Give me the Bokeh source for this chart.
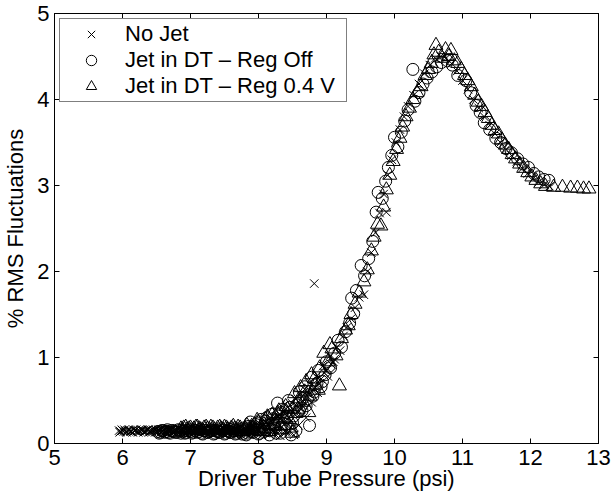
from bokeh.plotting import figure
from bokeh.models import (LinearAxis, Legend, LegendItem, Range1d, FixedTicker,
                          CustomLabelingPolicy)
from bokeh.embed import file_html
from bokeh.resources import INLINE

x_label = "Driver Tube Pressure (psi)"
y_label = "% RMS Fluctuations"
series_names = ["No Jet", "Jet in DT \u2013 Reg Off", "Jet in DT \u2013 Reg 0.4 V"]
x_ticks = [5, 6, 7, 8, 9, 10, 11, 12, 13]
y_ticks = [0, 1, 2, 3, 4, 5]

# Series 1: No Jet (x markers)
nojet_x = [5.95, 5.97, 6.00, 6.03, 6.05, 6.08, 6.11, 6.13, 6.16, 6.19, 6.21, 6.24, 6.27, 6.30,
           6.32, 6.35, 6.38, 6.41, 6.43, 6.46, 6.49, 6.52, 6.54, 6.57, 6.60, 6.63, 6.66, 6.68,
           6.71, 6.74, 6.77, 6.80, 6.82, 6.85, 6.88, 6.91, 6.94, 6.96, 6.99, 7.02, 7.05, 7.08,
           7.11, 7.13, 7.16, 7.19, 7.22, 7.25, 7.28, 7.31, 7.34, 7.37, 7.40, 7.43, 7.46, 7.49,
           7.52, 7.55, 7.58, 7.61, 7.64, 7.67, 7.70, 7.73, 7.76, 7.79, 7.82, 7.85, 7.88, 7.91,
           7.94, 7.97, 8.00, 8.03, 8.06, 8.10, 8.13, 8.16, 8.19, 8.22, 8.25, 8.28, 8.31, 8.34,
           8.37, 8.40, 8.43, 8.46, 8.49, 8.52, 8.55, 8.58, 8.61, 8.64, 8.68, 8.72, 8.76, 8.80,
           8.82, 8.85, 8.90, 8.95, 9.00, 9.05, 9.10, 9.15, 9.20, 9.25, 9.30, 9.36, 9.42, 9.48,
           9.55, 9.60, 9.66, 9.72, 9.78, 9.84, 9.88, 9.90, 9.96, 10.02, 10.08, 10.14, 10.20,
           10.28, 10.36, 10.44, 10.52, 10.60, 10.68, 10.76, 10.84, 10.92, 11.00, 11.08, 11.16,
           11.24, 11.32, 11.40, 11.48, 11.56, 11.64, 11.72, 11.80, 11.88, 11.96, 12.04, 12.12,
           12.20, 12.28]
nojet_y = [0.15, 0.14, 0.15, 0.16, 0.14, 0.15, 0.15, 0.14, 0.16, 0.15, 0.14, 0.15, 0.16, 0.15,
           0.14, 0.15, 0.16, 0.14, 0.15, 0.15, 0.16, 0.14, 0.15, 0.16, 0.15, 0.14, 0.15, 0.16,
           0.15, 0.14, 0.16, 0.15, 0.17, 0.14, 0.16, 0.15, 0.17, 0.14, 0.16, 0.15, 0.17, 0.14,
           0.16, 0.15, 0.17, 0.14, 0.16, 0.15, 0.13, 0.16, 0.15, 0.17, 0.14, 0.16, 0.15, 0.17,
           0.13, 0.16, 0.15, 0.17, 0.14, 0.16, 0.15, 0.13, 0.16, 0.15, 0.12, 0.17, 0.14, 0.11,
           0.16, 0.13, 0.18, 0.12, 0.20, 0.14, 0.22, 0.11, 0.26, 0.15, 0.30, 0.12, 0.34, 0.19,
           0.38, 0.13, 0.42, 0.25, 0.47, 0.10, 0.52, 0.36, 0.57, 0.44, 0.63, 0.55, 0.71, 0.62,
           1.86, 0.78, 0.70, 0.90, 0.85, 1.02, 0.95, 1.12, 1.08, 1.25, 1.35, 1.45, 1.58, 1.70,
           1.73, 2.00, 2.22, 2.45, 2.68, 2.90, 2.69, 3.12, 3.30, 3.50, 3.65, 3.80, 3.92,
           4.05, 4.18, 4.30, 4.40, 4.48, 4.50, 4.48, 4.42, 4.33, 4.22, 4.12, 4.00,
           3.90, 3.80, 3.70, 3.60, 3.50, 3.42, 3.35, 3.28, 3.20, 3.14, 3.08, 3.04,
           3.01, 2.99]
# more No Jet points in the dense low-pressure band and the start of the rise
nojet_band_x = [5.96, 5.99, 6.02, 6.06, 6.09, 6.12, 6.15, 6.18, 6.20, 6.23, 6.26, 6.29, 6.31,
                6.34, 6.37, 6.39, 6.42, 6.45, 6.48, 6.50, 6.53, 6.56, 6.59, 6.62, 6.65, 6.69,
                6.72, 6.75, 6.78, 6.81, 6.84, 6.87, 6.90, 6.93, 6.97, 7.00, 7.04, 7.07, 7.10,
                7.14, 7.17, 7.20, 7.23, 7.26, 7.30, 7.33, 7.36, 7.39, 7.42, 7.45, 7.48, 7.51,
                7.54, 7.57, 7.60, 7.63, 7.66, 7.69, 7.72, 7.75, 7.78, 7.81, 7.84, 7.87, 7.90,
                7.93, 7.96, 7.99, 8.02, 8.05, 8.08, 8.11, 8.14, 8.17, 8.20, 8.23, 8.26, 8.29,
                8.32, 8.35, 8.38, 8.41, 8.44, 8.47, 8.50, 8.53, 8.56, 8.59, 8.62, 8.66, 8.70,
                8.74, 8.78, 8.83, 8.87, 8.92, 8.97, 9.02, 9.07, 9.12]
nojet_band_y = [0.13, 0.16, 0.14, 0.13, 0.16, 0.14, 0.13, 0.15, 0.16, 0.13, 0.14, 0.16, 0.13,
                0.14, 0.16, 0.13, 0.15, 0.16, 0.13, 0.14, 0.16, 0.13, 0.14, 0.17, 0.13, 0.14,
                0.17, 0.12, 0.15, 0.17, 0.13, 0.15, 0.18, 0.12, 0.14, 0.18, 0.12, 0.15, 0.18,
                0.12, 0.14, 0.18, 0.12, 0.15, 0.18, 0.11, 0.14, 0.18, 0.12, 0.15, 0.19, 0.11,
                0.14, 0.18, 0.12, 0.15, 0.19, 0.11, 0.14, 0.19, 0.12, 0.16, 0.20, 0.10, 0.15,
                0.21, 0.12, 0.17, 0.23, 0.10, 0.16, 0.25, 0.13, 0.19, 0.28, 0.12, 0.22, 0.31,
                0.09, 0.26, 0.35, 0.14, 0.30, 0.39, 0.17, 0.34, 0.44, 0.21, 0.40, 0.49, 0.30,
                0.58, 0.48, 0.66, 0.59, 0.75, 0.82, 0.78, 0.92, 0.98]

# Series 2: Jet in DT - Reg Off (circles)
regoff_x = [6.52, 6.56, 6.60, 6.64, 6.68, 6.72, 6.76, 6.80, 6.84, 6.88, 6.92, 6.96, 7.00, 7.04,
            7.08, 7.12, 7.16, 7.20, 7.24, 7.28, 7.32, 7.36, 7.40, 7.44, 7.48, 7.52, 7.56, 7.60,
            7.64, 7.68, 7.72, 7.76, 7.80, 7.84, 7.88, 7.92, 7.96, 8.00, 8.04, 8.08, 8.12, 8.16,
            8.20, 8.24, 8.28, 8.32, 8.36, 8.40, 8.44, 8.48, 8.52, 8.56, 8.60, 8.64, 8.68, 8.72,
            8.75, 8.78, 8.82, 8.88, 8.94, 9.00, 9.06, 9.12, 9.17, 9.22, 9.28, 9.34, 9.37, 9.40,
            9.44, 9.51, 9.56, 9.62, 9.68, 9.73, 9.76, 9.82, 9.87, 9.91, 9.96, 10.00, 10.05,
            10.10, 10.15, 10.20, 10.27, 10.30, 10.36, 10.42, 10.48, 10.55, 10.62, 10.69, 10.78,
            10.85, 10.93, 11.05, 11.12, 11.20, 11.26, 11.32, 11.40, 11.49, 11.56, 11.64, 11.72,
            11.81, 11.89, 11.97, 12.05, 12.12, 12.20, 12.27]
regoff_y = [0.14, 0.13, 0.15, 0.14, 0.13, 0.15, 0.14, 0.13, 0.15, 0.14, 0.12, 0.15, 0.14, 0.13,
            0.15, 0.14, 0.12, 0.15, 0.13, 0.14, 0.15, 0.12, 0.14, 0.13, 0.15, 0.12, 0.14, 0.13,
            0.15, 0.12, 0.14, 0.11, 0.16, 0.12, 0.25, 0.13, 0.22, 0.11, 0.28, 0.14, 0.30, 0.10,
            0.34, 0.18, 0.47, 0.12, 0.40, 0.22, 0.50, 0.10, 0.32, 0.45, 0.60, 0.38, 0.66, 0.52,
            0.21, 0.77, 0.60, 0.85, 0.72, 0.95, 0.88, 1.05, 1.20, 1.12, 1.30, 1.40, 1.69, 1.51,
            1.78, 2.07, 1.95, 2.15, 2.35, 2.69, 2.92, 2.85, 3.05, 3.21, 3.35, 3.56, 3.45,
            3.62, 3.75, 3.88, 4.35, 3.98, 4.08, 4.18, 4.25, 4.32, 4.38, 4.43, 4.45,
            4.40, 4.28, 4.22, 4.08, 3.93, 3.85, 3.73, 3.65, 3.55, 3.50, 3.43, 3.38,
            3.31, 3.25, 3.21, 3.14, 3.10, 3.07, 3.06]
regoff_band_x = [6.54, 6.58, 6.62, 6.66, 6.70, 6.74, 6.78, 6.82, 6.86, 6.90, 6.94, 6.98, 7.02,
                 7.06, 7.10, 7.14, 7.18, 7.22, 7.26, 7.30, 7.34, 7.38, 7.42, 7.46, 7.50, 7.54,
                 7.58, 7.62, 7.66, 7.70, 7.74, 7.78, 7.82, 7.86, 7.90, 7.94, 7.98, 8.02, 8.06,
                 8.10, 8.14, 8.18, 8.22, 8.26, 8.30, 8.34, 8.38, 8.42, 8.46, 8.50, 8.55, 8.60,
                 8.65, 8.70, 8.80, 8.86, 8.92, 8.98, 9.04]
regoff_band_y = [0.12, 0.15, 0.13, 0.16, 0.12, 0.15, 0.13, 0.16, 0.12, 0.15, 0.13, 0.16, 0.12,
                 0.15, 0.13, 0.16, 0.11, 0.15, 0.13, 0.16, 0.11, 0.15, 0.13, 0.17, 0.11, 0.15,
                 0.13, 0.17, 0.11, 0.15, 0.13, 0.18, 0.10, 0.20, 0.14, 0.17, 0.24, 0.12, 0.20,
                 0.26, 0.15, 0.23, 0.29, 0.12, 0.26, 0.36, 0.18, 0.31, 0.42, 0.24, 0.15, 0.38,
                 0.52, 0.44, 0.55, 0.70, 0.66, 0.80, 0.90]

# Series 3: Jet in DT - Reg 0.4 V (triangles)
reg04_x = [6.86, 6.90, 6.95, 7.00, 7.05, 7.10, 7.15, 7.20, 7.25, 7.30, 7.35, 7.40, 7.45, 7.50,
           7.55, 7.60, 7.65, 7.70, 7.75, 7.80, 7.85, 7.90, 7.95, 8.00, 8.05, 8.10, 8.15, 8.20,
           8.25, 8.30, 8.35, 8.40, 8.45, 8.50, 8.53, 8.58, 8.62, 8.66, 8.70, 8.74, 8.78, 8.84,
           8.90, 8.96, 9.02, 9.08, 9.14, 9.19, 9.22, 9.28, 9.32, 9.36, 9.42, 9.48, 9.55, 9.60,
           9.66, 9.70, 9.75, 9.80, 9.84, 9.88, 9.93, 9.98, 10.03, 10.08, 10.12, 10.17, 10.22,
           10.27, 10.33, 10.39, 10.45, 10.50, 10.54, 10.58, 10.61, 10.65, 10.70, 10.75, 10.80,
           10.83, 10.88, 10.93, 10.98, 11.03, 11.08, 11.13, 11.18, 11.23, 11.28, 11.33, 11.38,
           11.43, 11.48, 11.53, 11.58, 11.63, 11.68, 11.73, 11.78, 11.84, 11.90, 11.96, 12.02,
           12.08, 12.15, 12.22, 12.34, 12.47, 12.59, 12.69, 12.78, 12.86]
reg04_y = [0.17, 0.18, 0.16, 0.18, 0.17, 0.19, 0.16, 0.18, 0.17, 0.19, 0.16, 0.18, 0.17, 0.19,
           0.16, 0.18, 0.17, 0.19, 0.15, 0.18, 0.16, 0.20, 0.15, 0.24, 0.17, 0.28, 0.14, 0.33,
           0.20, 0.38, 0.16, 0.43, 0.28, 0.12, 0.58, 0.40, 0.65, 0.48, 0.72, 0.36, 0.80, 0.68,
           0.88, 1.05, 0.95, 1.10, 1.02, 0.67, 1.22, 1.32, 1.37, 1.50, 1.62, 1.75, 1.88, 2.02,
           2.24, 2.40, 2.55, 2.53, 2.75, 2.95, 3.12, 3.28, 3.42, 3.55, 3.68, 3.80, 3.90,
           4.00, 4.08, 4.15, 4.28, 4.35, 4.42, 4.52, 4.63, 4.55, 4.48, 4.58, 4.50,
           4.57, 4.45, 4.42, 4.35, 4.28, 4.22, 4.15, 4.05, 3.97, 3.92, 3.85, 3.78,
           3.70, 3.64, 3.60, 3.53, 3.47, 3.42, 3.36, 3.31, 3.25, 3.20, 3.15, 3.10,
           3.06, 3.02, 2.99, 2.98, 2.98, 2.97, 2.97, 2.96, 2.96]
reg04_band_x = [6.88, 6.93, 6.98, 7.03, 7.08, 7.13, 7.18, 7.23, 7.28, 7.33, 7.38, 7.43, 7.48,
                7.53, 7.58, 7.63, 7.68, 7.73, 7.78, 7.83, 7.88, 7.93, 7.98, 8.03, 8.08, 8.13,
                8.18, 8.23, 8.28, 8.33, 8.38, 8.43, 8.48, 8.55, 8.60, 8.68, 8.76, 8.82, 8.88,
                9.05]
reg04_band_y = [0.16, 0.19, 0.17, 0.15, 0.19, 0.17, 0.15, 0.19, 0.16, 0.18, 0.15, 0.19, 0.16,
                0.18, 0.15, 0.20, 0.16, 0.18, 0.14, 0.21, 0.16, 0.18, 0.27, 0.14, 0.22, 0.31,
                0.17, 0.26, 0.35, 0.21, 0.30, 0.40, 0.18, 0.35, 0.52, 0.60, 0.55, 0.75, 0.62,
                1.15]

FONT = "Liberation Sans"
FS = "22px"

p = figure(width=611, height=496, output_backend="svg", toolbar_location=None,
           x_range=Range1d(5, 13), y_range=Range1d(0, 5),
           min_border_left=52, min_border_right=13, min_border_top=13, min_border_bottom=53,
           background_fill_color="white", border_fill_color="white")
p.outline_line_color = "black"
p.outline_line_width = 1
p.xgrid.visible = False
p.ygrid.visible = False


def style_axis(ax, ticks, labels=True):
    ax.ticker = FixedTicker(ticks=ticks)
    ax.axis_line_color = "black"
    ax.axis_line_width = 1
    ax.major_tick_line_color = "black"
    ax.major_tick_line_width = 1
    ax.major_tick_in = 5
    ax.major_tick_out = 0
    ax.minor_tick_line_color = None
    ax.major_label_text_font = FONT
    ax.major_label_text_font_size = FS if labels else "2px"
    ax.major_label_text_color = "black"
    ax.axis_label_text_font = FONT
    ax.axis_label_text_font_size = FS
    ax.axis_label_text_font_style = "normal"
    ax.axis_label_text_color = "black"
    if not labels:
        ax.major_label_standoff = 0
        ax.major_label_policy = CustomLabelingPolicy(
            code="for (const i of [...indices]) { indices.unset(i) } return indices")


xa = p.xaxis[0]
ya = p.yaxis[0]
style_axis(xa, x_ticks)
style_axis(ya, y_ticks)
xa.axis_label = x_label
ya.axis_label = y_label
xa.major_label_standoff = 6
xa.axis_label_standoff = -2
ya.major_label_standoff = 5
ya.axis_label_standoff = 6

top = LinearAxis()
style_axis(top, x_ticks, labels=False)
p.add_layout(top, "above")

right = LinearAxis()
style_axis(right, y_ticks, labels=False)
p.add_layout(right, "right")

r1 = p.scatter(nojet_x + nojet_band_x, nojet_y + nojet_band_y, marker="x", size=12,
               line_color="black", line_width=1)
r2 = p.scatter(regoff_x + regoff_band_x, regoff_y + regoff_band_y, marker="circle", size=12,
               line_color="black", fill_color=None, line_width=1)
r3 = p.scatter(reg04_x + reg04_band_x, reg04_y + reg04_band_y, marker="triangle", size=14,
               line_color="black", fill_color=None, line_width=1)

legend = Legend(items=[LegendItem(label=series_names[0], renderers=[r1]),
                       LegendItem(label=series_names[1], renderers=[r2]),
                       LegendItem(label=series_names[2], renderers=[r3])],
                location="top_left")
legend.border_line_color = "black"
legend.border_line_width = 1
legend.background_fill_color = "white"
legend.background_fill_alpha = 1
legend.label_text_font = FONT
legend.label_text_font_size = FS
legend.label_text_color = "black"
legend.glyph_width = 58
legend.glyph_height = 26
legend.label_height = 26
legend.label_width = 219
legend.label_standoff = 5
legend.padding = 2
legend.spacing = 0
legend.margin = 5
p.add_layout(legend)

open("out.html", "w").write(file_html(p, INLINE))
